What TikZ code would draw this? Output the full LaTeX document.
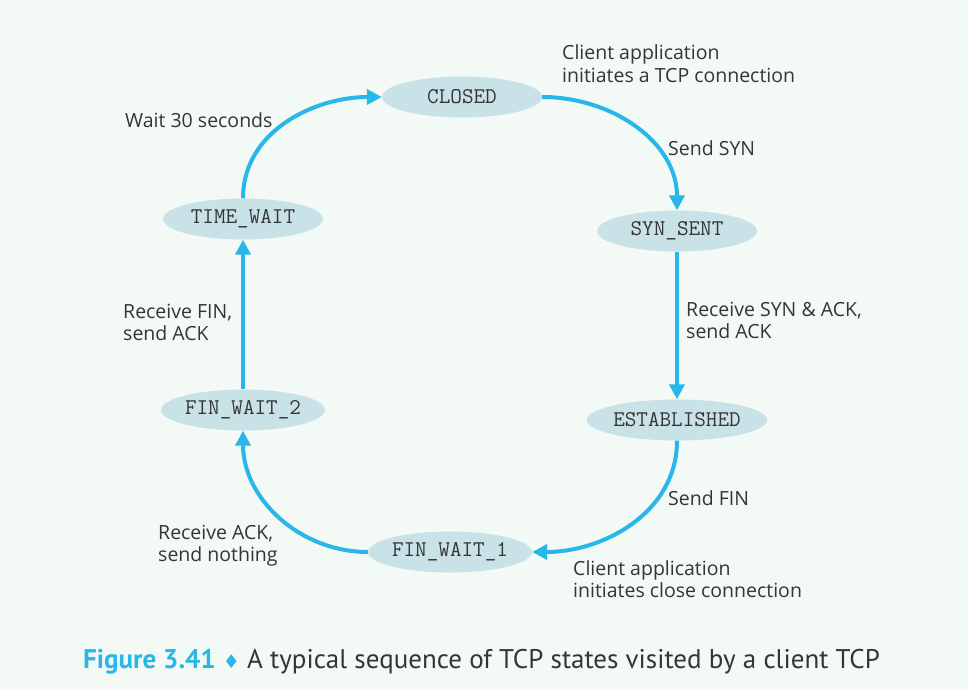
\documentclass[tikz,border=0pt]{standalone}
\usepackage{fontspec}
\setmainfont{Open Sans}
\newfontfamily\capf{PT Sans}
\newfontfamily\symf{DejaVu Sans}
\usetikzlibrary{arrows.meta,shapes.geometric}
\definecolor{bgc}{HTML}{F3F9F4}
\definecolor{ellc}{HTML}{C8E2E8}
\definecolor{arrc}{HTML}{29B6E8}
\definecolor{txtc}{HTML}{353535}
\tikzset{
  state/.style={ellipse, fill=ellc, minimum width=160pt, minimum height=41pt, inner sep=0pt,
    font=\ttfamily\fontsize{22.5}{24}\selectfont, text=txtc},
  lbl/.style={anchor=base west, align=left, inner sep=0pt, text=txtc,
    font=\fontsize{19.5}{22.5}\selectfont},
  conn/.style={draw=arrc, line width=4pt, -{Triangle[length=15pt,width=15pt]}}
}
\begin{document}
\begin{tikzpicture}[x=1pt,y=-1pt]
\fill[bgc] (0,0) rectangle (968,690);
\useasboundingbox (0,0) rectangle (968,690);
\node[state] (closed) at (462,97) {CLOSED};
\node[state] (synsent) at (677,231) {SYN\_SENT};
\node[state] (est) at (677,420) {ESTABLISHED};
\node[state] (fw1) at (450,552) {FIN\_WAIT\_1};
\node[state] (fw2) at (243,410) {FIN\_WAIT\_2};
\node[state] (tw) at (243,219) {TIME\_WAIT};

\draw[conn] (closed.east) to[out=0,in=90] (synsent.north);
\draw[conn] (synsent.south) -- (est.north);
\draw[conn] (est.south) to[out=-90,in=0] (fw1.east);
\draw[conn] (fw1.west) to[out=180,in=-90] (fw2.south);
\draw[conn] (fw2.north) -- (tw.south);
\draw[conn] (tw.north) to[out=90,in=180] (closed.west);

\node[lbl] (l1) at (562,82.5) {Client application\\initiates a TCP connection};
\node[lbl] (l2) at (668,155) {Send SYN};
\node[lbl] (l3) at (125,128) {Wait 30 seconds};
\node[lbl] (l4) at (686,338.5) {Receive SYN \& ACK,\\send ACK};
\node[lbl] (l5) at (123,340.5) {Receive FIN,\\send ACK};
\node[lbl] (l6) at (668,505) {Send FIN};
\node[lbl] (l7) at (158,561.5) {Receive ACK,\\send nothing};
\node[lbl] (l8) at (573,597.5) {Client application\\initiates close connection};

\node[anchor=west, inner sep=0pt, text=txtc, font=\capf\fontsize{27}{30}\selectfont] (cap) at (83,662)
  {\textcolor{arrc}{\textbf{Figure 3.41}} \textcolor{arrc}{\symf\fontsize{19}{20}\selectfont ♦} A typical sequence of TCP states visited by a client TCP};
\end{tikzpicture}
\end{document}
